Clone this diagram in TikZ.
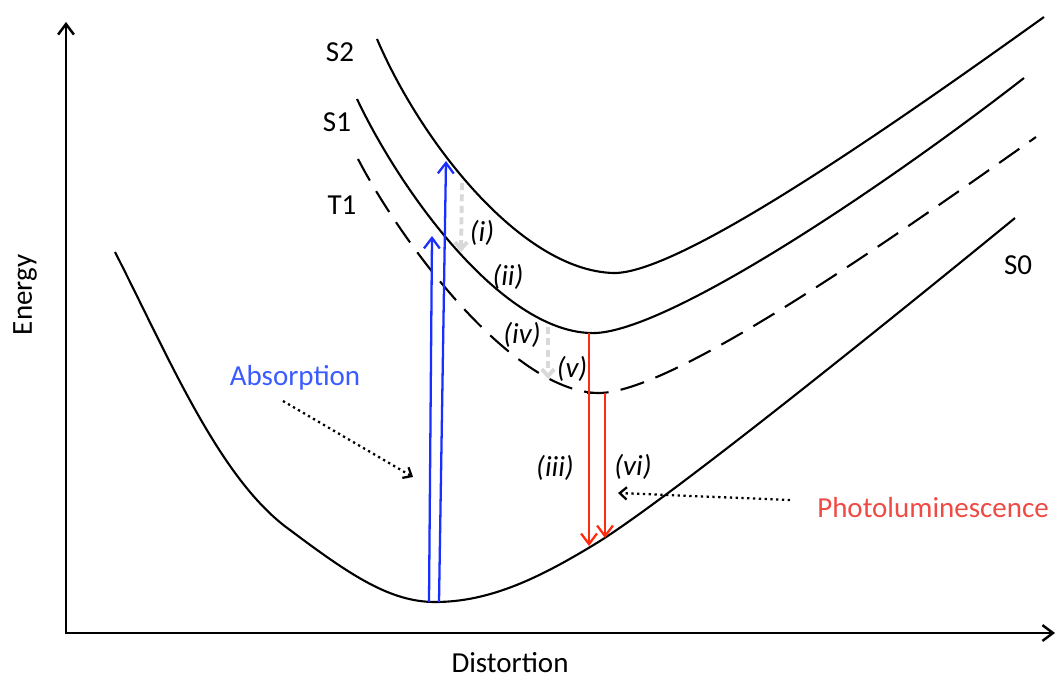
\documentclass[tikz,border=0pt]{standalone}
\usepackage{fontspec}
\setmainfont{Carlito}
\usepackage{xcolor}
\usetikzlibrary{arrows.meta}

\definecolor{absblue}{HTML}{1A2EFF}
\definecolor{abstext}{HTML}{3A5BFF}
\definecolor{plred}{HTML}{FF2A10}
\definecolor{pltext}{HTML}{EE4B44}

\begin{document}
\begin{tikzpicture}[
    x=0.02cm, y=-0.02cm, font=\fontsize{16.5}{19}\selectfont,
    barb/.tip={Straight Barb[length=6pt,width=9pt]},
    axis/.style={line width=1.4pt, barb-barb, line join=miter},
    level/.style={line width=1.2pt},
    triplet/.style={level, dash pattern=on 14pt off 7pt},
    absorb/.style={line width=1.3pt, absblue, -barb},
    emit/.style={line width=1.3pt, plred, -barb},
    relax/.style={line width=2.2pt, gray!30, dash pattern=on 4pt off 2.5pt, -{Straight Barb[length=4pt,width=7pt]}},
    pointer/.style={line width=1.3pt, dotted, -{Straight Barb[length=4pt,width=7pt]}},
    state/.style={inner sep=1pt},
    proc/.style={inner sep=1pt, font=\fontsize{16.5}{19}\selectfont\itshape}
]
    \useasboundingbox (0,0) rectangle (1060,682);

    % axes
    \coordinate (ytop) at (66,22);
    \coordinate (orig) at (66,633);
    \coordinate (xend) at (1055,633);
    \draw[axis] (ytop) -- (orig) -- (xend);
    \node[rotate=90] (energy) at (25,295) {Energy};
    \node (distortion) at (510,663) {Distortion};

    % potential energy curves
    \draw[level] (115,252) .. controls (170,360) and (220,480) .. (290,530)
        .. controls (350,575) and (390,602) .. (435,602)
        .. controls (490,602) and (540,578) .. (600,541)
        .. controls (680,490) and (900,312) .. (1015,218);
    \draw[level] (377,39) .. controls (420,140) and (520,270) .. (613,273)
        .. controls (680,275) and (900,120) .. (1044,17);
    \draw[level] (357,99) .. controls (400,190) and (500,330) .. (590,333)
        .. controls (660,337) and (880,190) .. (1024,78);
    \draw[triplet] (358,159) .. controls (400,240) and (510,390) .. (597,393)
        .. controls (670,395) and (890,240) .. (1036,137);

    \node[state] (s2) at (340,52) {S2};
    \node[state] (s1) at (337,122) {S1};
    \node[state] (t1) at (342,205) {T1};
    \node[state] (s0) at (1018,265) {S0};

    % absorption
    \coordinate (a1) at (429,602);
    \coordinate (a1t) at (432,236);
    \coordinate (a2) at (439,602);
    \coordinate (a2t) at (446,161);
    \draw[absorb] (a1) -- (a1t);
    \draw[absorb] (a2) -- (a2t);

    % relaxation
    \coordinate (r1) at (462,183);
    \coordinate (r1t) at (461,252);
    \coordinate (r2) at (548,327);
    \coordinate (r2t) at (548,379);
    \draw[relax] (r1) -- (r1t);
    \draw[relax] (r2) -- (r2t);

    % emission
    \coordinate (e1) at (589,333);
    \coordinate (e1t) at (589,546);
    \coordinate (e2c) at (587,393);
    \coordinate (e2) at (605,393);
    \coordinate (e2t) at (605,538);
    \draw[line width=1.3pt] (e2c) -- (e2);
    \draw[emit] (e1) -- (e1t);
    \draw[emit] (e2) -- (e2t);

    \node[proc] (pi) at (482,233) {(i)};
    \node[proc] (pii) at (508,277) {(ii)};
    \node[proc] (piv) at (522,335) {(iv)};
    \node[proc] (pv) at (572,369) {(v)};
    \node[proc] (piii) at (555,468) {(iii)};
    \node[proc] (pvi) at (633,467) {(vi)};

    % labels
    \node[text=abstext] (abs) at (295,378) {Absorption};
    \node[text=pltext] (pl) at (933,508) {Photoluminescence};
    \coordinate (absp) at (283,401);
    \coordinate (abspt) at (413,477);
    \coordinate (plp) at (790,500);
    \coordinate (plpt) at (618,493);
    \draw[pointer] (absp) -- (abspt);
    \draw[pointer] (plp) -- (plpt);
\end{tikzpicture}
\end{document}
